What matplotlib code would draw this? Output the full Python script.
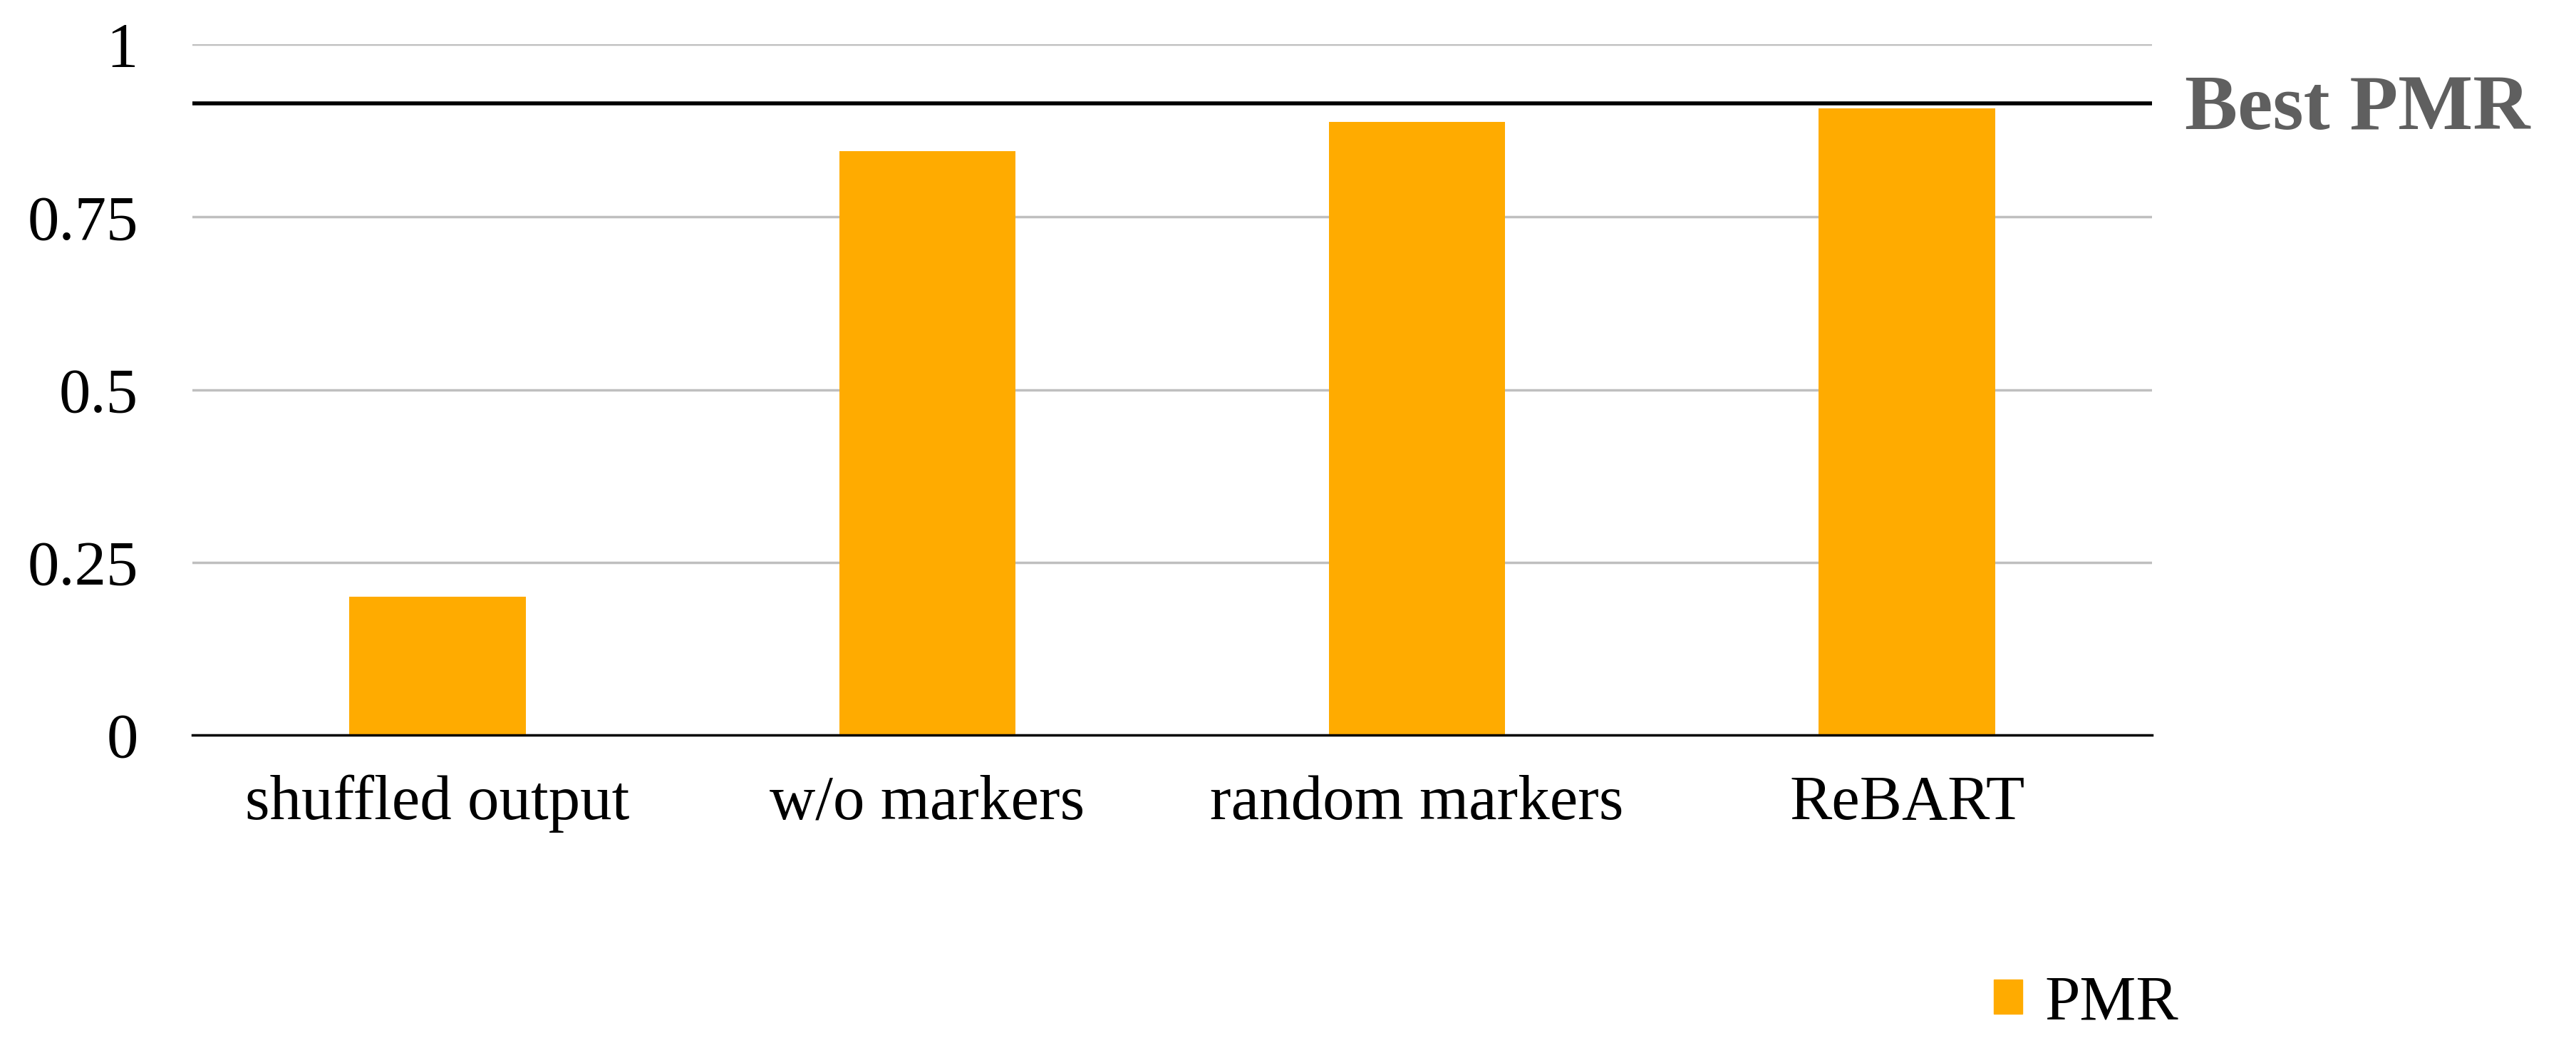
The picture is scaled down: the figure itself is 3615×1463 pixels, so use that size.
import matplotlib
matplotlib.use('Agg')
import matplotlib.pyplot as plt
from matplotlib.patches import Patch

methods = ['shuffled output', 'w/o markers', 'random markers', 'ReBART']
pmr = [0.20, 0.845, 0.888, 0.907]
best_pmr = 0.914
yticks = [0, 0.25, 0.5, 0.75, 1]
ytick_labels = ['0', '0.25', '0.5', '0.75', '1']

bar_col = '#FFAB00'
plt.rcParams['font.family'] = ['Liberation Serif', 'DejaVu Serif']

fig = plt.figure(figsize=(36.15, 14.63), dpi=100)
ax = fig.add_axes([0.0747, 0.2953, 0.7607, 0.6623])

x = range(len(methods))
ax.bar(x, pmr, width=0.36, color=bar_col, zorder=3, label='PMR')
ax.axhline(best_pmr, color='black', linewidth=4, zorder=4)

ax.set_xlim(-0.5, len(methods) - 0.5)
ax.set_ylim(0, 1)
ax.set_yticks(yticks)
ax.set_yticklabels(ytick_labels)
ax.set_xticks(list(x))
ax.set_xticklabels(methods)
ax.tick_params(axis='both', length=0, labelsize=64, colors='black')
ax.tick_params(axis='y', pad=55)
ax.tick_params(axis='x', pad=40)

ax.grid(axis='y', color='#BFBFBF', linewidth=2.5, zorder=0)
for s in ['top', 'right', 'left']:
    ax.spines[s].set_visible(False)
ax.spines['bottom'].set_color('black')
ax.spines['bottom'].set_linewidth(2.5)
ax.spines['bottom'].set_zorder(5)

fig.text(0.848, 0.895, 'Best PMR', fontsize=80, fontweight='bold',
         color='#5F5F5F', ha='left', va='center')

fig.legend(handles=[Patch(color=bar_col, label='PMR')], loc='lower left',
           bbox_to_anchor=(0.752, -0.045), frameon=False, fontsize=64,
           handlelength=0.45, handleheight=0.45, handletextpad=0.35)

fig.savefig('out.png', dpi=100)
